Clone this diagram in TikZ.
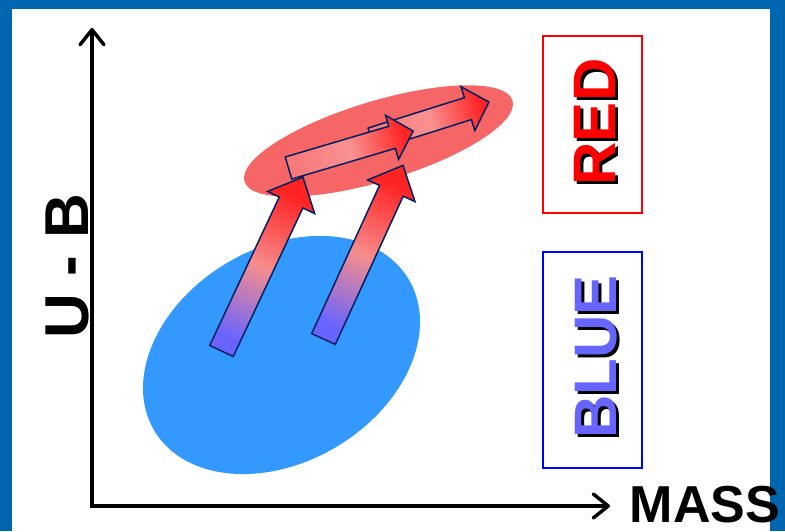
\documentclass[tikz,border=0pt]{standalone}
\usepackage{fontspec}
\setmainfont{Liberation Sans}
\usetikzlibrary{arrows.meta, math}
\definecolor{frameblue}{RGB}{0,102,176}
\definecolor{redcloud}{RGB}{246,102,102}
\definecolor{bluecloud}{RGB}{51,153,255}
\definecolor{arrowline}{RGB}{0,32,96}
\definecolor{arrowred}{RGB}{255,35,35}
\definecolor{arrowpink}{RGB}{246,140,140}
\definecolor{arrowblue}{RGB}{105,100,255}
\definecolor{arrowrose}{RGB}{246,122,122}
\definecolor{arrowlight}{RGB}{250,146,146}
\definecolor{textblue}{RGB}{102,102,255}

\begin{document}
\begin{tikzpicture}[x=1pt, y=1pt,
  bigtext/.style={font=\bfseries\fontsize{60}{60}\selectfont, inner sep=0pt, anchor=base, rotate=90},
  blockarrow/.style={draw=arrowline, line width=1.5, line join=miter}]
\tikzmath{
\vs=13;
\vh=26;
\vk=28;
\hs=11.5;
\hh=23;
\hk=22;
}
%frame
\fill[frameblue] (0,0) rectangle (785,531);
\fill[white] (12,0) rectangle (770,522);
\useasboundingbox (0,0) rectangle (785,531);

%clouds
\fill[bluecloud, rotate around={30.7:(281.5,176)}] (281.5,176) ellipse [x radius=148, y radius=107];
\fill[redcloud, rotate around={16.8:(378.5,390)}] (378.5,390) ellipse [x radius=140, y radius=40];

%arrows in the red cloud
\begin{scope}[shift={(371.6,392)}, rotate=17.5]
\draw[blockarrow, bottom color=arrowrose, top color=arrowred, middle color=arrowlight, shading angle=-72.5]
  (0,-\hs) -- (123-\hk,-\hs) -- (123-\hk,-\hh) -- (123,0) -- (123-\hk,\hh) -- (123-\hk,\hs) -- (0,\hs) -- cycle;
\end{scope}
\begin{scope}[shift={(288.5,363)}, rotate=16.5]
\draw[blockarrow, bottom color=arrowrose, top color=arrowred, middle color=arrowlight, shading angle=-73.5]
  (0,-\hs) -- (130-\hk,-\hs) -- (130-\hk,-\hh) -- (130,0) -- (130-\hk,\hh) -- (130-\hk,\hs) -- (0,\hs) -- cycle;
\end{scope}

%arrows from blue to red
\begin{scope}[shift={(221.5,180)}, rotate=64.9]
\draw[blockarrow, bottom color=arrowblue, top color=arrowred, middle color=arrowpink, shading angle=-25.1]
  (0,-\vs) -- (192-\vk,-\vs) -- (192-\vk,-\vh) -- (192,0) -- (192-\vk,\vh) -- (192-\vk,\vs) -- (0,\vs) -- cycle;
\end{scope}
\begin{scope}[shift={(323.5,192)}, rotate=65.4]
\draw[blockarrow, bottom color=arrowblue, top color=arrowred, middle color=arrowpink, shading angle=-24.6]
  (0,-\vs) -- (191-\vk,-\vs) -- (191-\vk,-\vh) -- (191,0) -- (191-\vk,\vh) -- (191-\vk,\vs) -- (0,\vs) -- cycle;
\end{scope}

%axis
\draw[line width=3.5, {Straight Barb[length=15pt, width=24pt, round]}-{Straight Barb[length=15pt, width=24pt, round]}]
  (92,503) -- (92,25) -- (610,25);
\node[font=\bfseries\fontsize{62}{62}\selectfont, inner sep=0pt, anchor=base, rotate=90] (ub) at (88,265) {U - B};
\node[font=\bfseries\fontsize{52}{52}\selectfont, inner sep=0pt, anchor=base] (mass) at (705,9) {MASS};

%boxes
\draw[red, line width=1.5] (543,318) rectangle (642,495);
\draw[blue, line width=1.5] (543,63) rectangle (642,279);
\node[bigtext, black] (redshadow) at (618,406) {RED};
\node[bigtext, red] (redlabel) at (615,409) {RED};
\node[bigtext, black] (blueshadow) at (619,171) {BLUE};
\node[bigtext, textblue] (bluelabel) at (616,174) {BLUE};
\end{tikzpicture}
\end{document}
